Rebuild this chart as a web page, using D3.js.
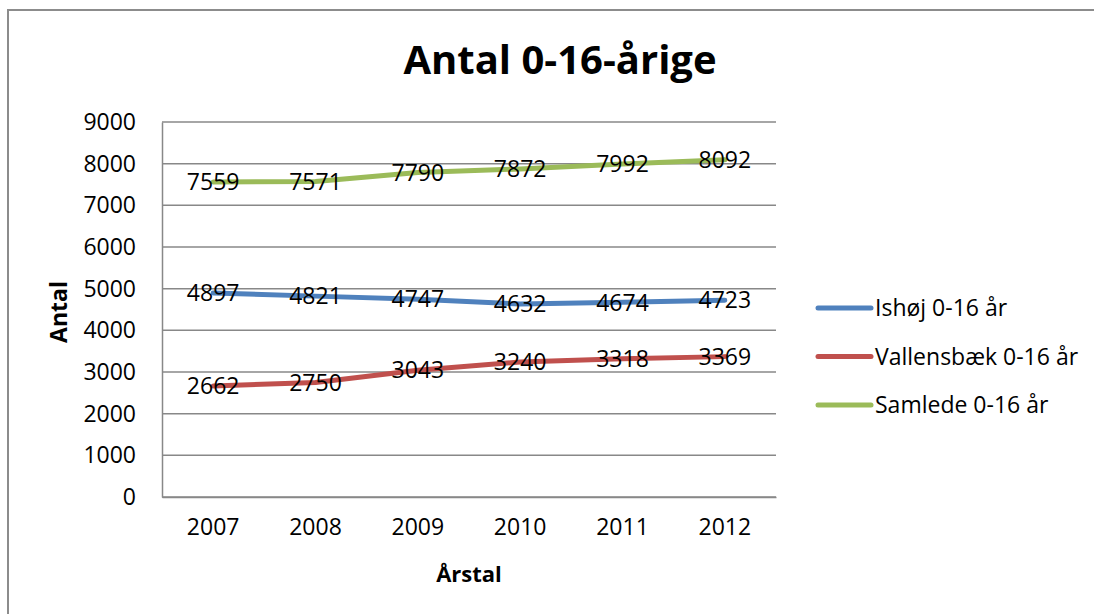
<!DOCTYPE html>
<html>
<head>
<meta charset="utf-8">
<script src="https://cdn.jsdelivr.net/npm/d3@7"></script>
<style>
  body { margin: 0; background: #fff; }
  svg { display: block; font-family: "Open Sans", sans-serif; }
</style>
</head>
<body>
<svg id="chart" width="1094" height="614"></svg>
<script>
// data
var years = ["2007", "2008", "2009", "2010", "2011", "2012"];
var ishoj = [4897, 4821, 4747, 4632, 4674, 4723];
var vallensbaek = [2662, 2750, 3043, 3240, 3318, 3369];
var samlede = [7559, 7571, 7790, 7872, 7992, 8092];
var seriesNames = ["Ishøj 0-16 år", "Vallensbæk 0-16 år", "Samlede 0-16 år"];
var seriesColors = ["#4F81BD", "#C0504D", "#9BBB59"];
var yTicks = [0, 1000, 2000, 3000, 4000, 5000, 6000, 7000, 8000, 9000];

var series = [ishoj, vallensbaek, samlede].map(function (v, i) {
    return {name: seriesNames[i], color: seriesColors[i], values: v};
});

var svg = d3.select("#chart"),
    margin = {left: 162, right: 318, top: 122, bottom: 117},
    width = +svg.attr("width") - margin.left - margin.right,
    height = +svg.attr("height") - margin.top - margin.bottom;

var x = d3.scaleBand().domain(years).range([margin.left, margin.left + width]);
var y = d3.scaleLinear().domain([0, 9000]).range([margin.top + height, margin.top]);

// outer frame (only top and left visible in the crop)
svg.append("path")
    .attr("d", "M8,614 L8,10 L1094,10")
    .style("fill", "none")
    .style("stroke", "#8c8c8c")
    .style("stroke-width", 2);

// title
svg.append("text")
    .attr("x", 560)
    .attr("y", 74)
    .attr("text-anchor", "middle")
    .style("font-weight", "bold")
    .style("font-size", "40px")
    .text("Antal 0-16-årige");

// gridlines
svg.append("g")
    .selectAll("line")
    .data(yTicks)
    .enter().append("line")
    .attr("x1", margin.left)
    .attr("x2", margin.left + width)
    .attr("y1", d => y(d))
    .attr("y2", d => y(d))
    .style("stroke", "#888")
    .style("stroke-width", 1.5);

// y axis
var yAxis = svg.append("g")
    .attr("transform", "translate(" + margin.left + ",0)")
    .call(d3.axisLeft(y).tickValues(yTicks).tickFormat(d3.format("d")).tickSize(0).tickPadding(26));
yAxis.select(".domain").style("stroke", "#888").style("stroke-width", 1.5);
yAxis.selectAll("text")
    .style("font-family", "'Open Sans', sans-serif")
    .style("font-size", "23px")
    .style("fill", "#000");

// x axis
var xAxis = svg.append("g")
    .attr("transform", "translate(0," + (margin.top + height) + ")")
    .call(d3.axisBottom(x).tickSize(0).tickPadding(22));
xAxis.select(".domain").style("stroke", "#888").style("stroke-width", 1.5);
xAxis.selectAll("text")
    .style("font-family", "'Open Sans', sans-serif")
    .style("font-size", "23px")
    .style("fill", "#000");

// axis titles
svg.append("text")
    .attr("transform", "translate(67,312) rotate(-90)")
    .attr("text-anchor", "middle")
    .style("font-weight", "bold")
    .style("font-size", "23px")
    .text("Antal");

svg.append("text")
    .attr("x", 469)
    .attr("y", 582)
    .attr("text-anchor", "middle")
    .style("font-weight", "bold")
    .style("font-size", "22px")
    .text("Årstal");

// lines
var line = d3.line()
    .x((d, i) => x(years[i]) + x.bandwidth() / 2)
    .y(d => y(d));

svg.append("g")
    .selectAll("path")
    .data(series)
    .enter().append("path")
    .attr("d", d => line(d.values))
    .style("fill", "none")
    .style("stroke", d => d.color)
    .style("stroke-width", 5)
    .style("stroke-linejoin", "round")
    .style("stroke-linecap", "round");

// data labels
series.forEach(function (s) {
    svg.append("g")
        .selectAll("text")
        .data(s.values)
        .enter().append("text")
        .attr("x", (d, i) => x(years[i]) + x.bandwidth() / 2)
        .attr("y", d => y(d))
        .attr("dy", "0.36em")
        .attr("text-anchor", "middle")
        .style("font-size", "23px")
        .text(d => d);
});

// legend
var legend = svg.append("g")
    .selectAll("g")
    .data(series)
    .enter().append("g")
    .attr("transform", (d, i) => "translate(818," + (308 + i * 48.5) + ")");

legend.append("line")
    .attr("x1", 0)
    .attr("x2", 53)
    .style("stroke", d => d.color)
    .style("stroke-width", 5)
    .style("stroke-linecap", "round");

legend.append("text")
    .attr("x", 57)
    .attr("dy", "0.36em")
    .style("font-size", "23px")
    .text(d => d.name);
</script>
</body>
</html>
